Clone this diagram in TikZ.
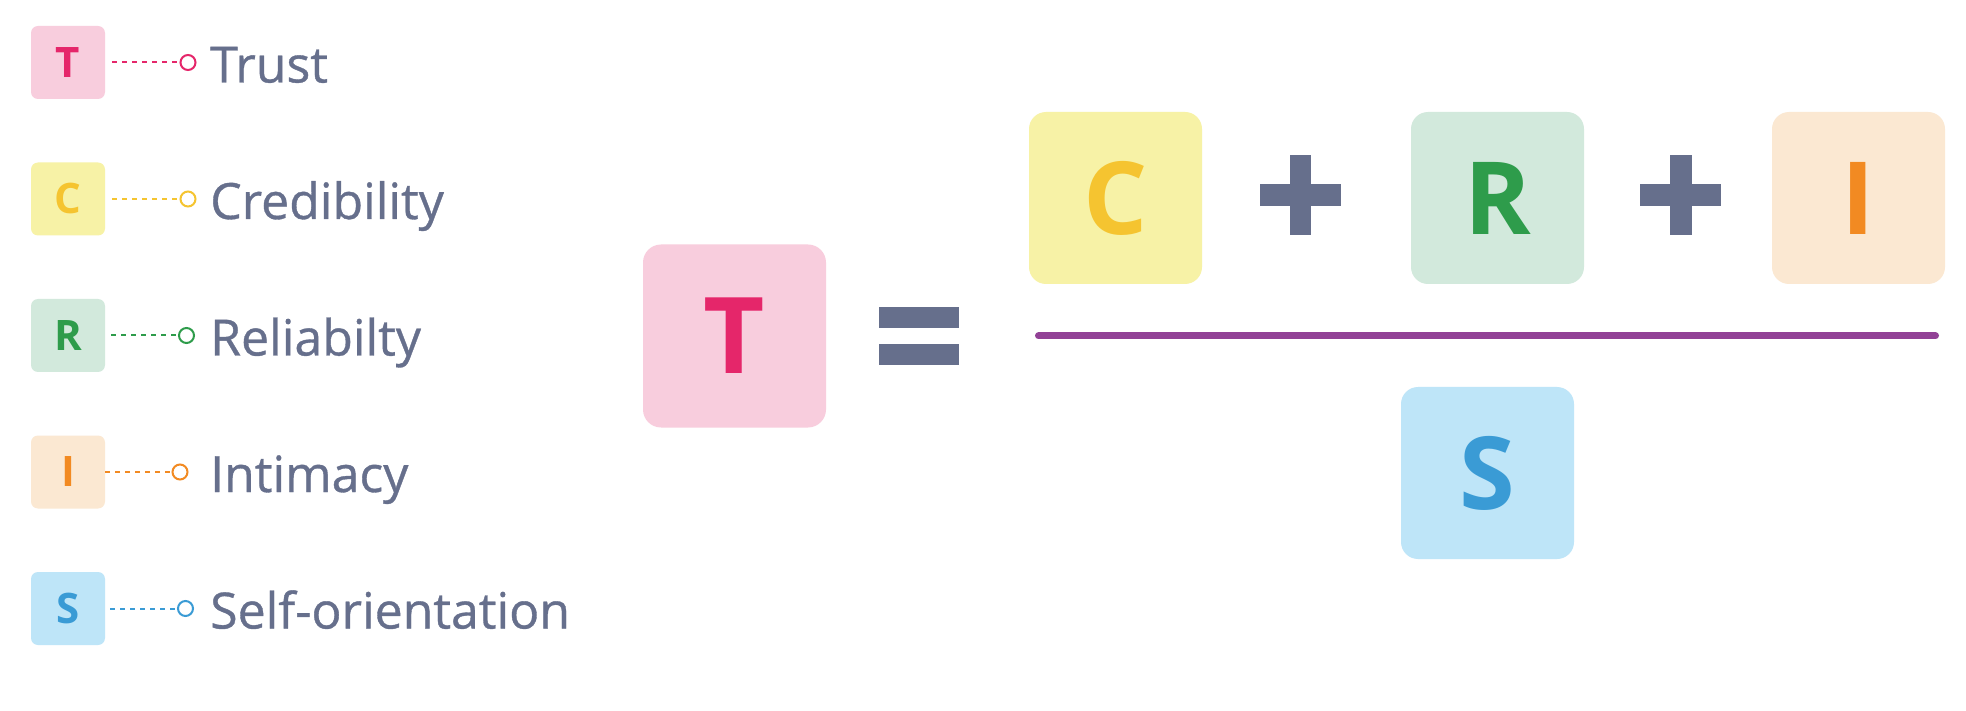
\documentclass[tikz,border=0pt]{standalone}
\usepackage{fontspec}
\setmainfont{Open Sans}
\newfontfamily\labelfont{Open Sans}[FakeBold=0.7]
\definecolor{txtgray}{HTML}{666F8C}
\definecolor{tbg}{HTML}{F8CDDD}\definecolor{tfg}{HTML}{E5266A}
\definecolor{cbg}{HTML}{F7F2A6}\definecolor{cfg}{HTML}{F5C430}
\definecolor{rbg}{HTML}{D2E9DC}\definecolor{rfg}{HTML}{2E9C4B}
\definecolor{ibg}{HTML}{FBE8D2}\definecolor{ifg}{HTML}{F28A22}
\definecolor{sbg}{HTML}{BEE5F8}\definecolor{sfg}{HTML}{3A9BD5}
\definecolor{fracline}{HTML}{924196}
\begin{document}
\begin{tikzpicture}[x=1pt,y=-1pt,
  legbox/.style={rounded corners=7pt, minimum width=74pt, minimum height=73pt, inner sep=0pt, font=\fontsize{42}{48}\selectfont\bfseries},
  bigbox/.style={rounded corners=17pt, minimum width=173pt, minimum height=172pt, inner sep=0pt, font=\fontsize{101}{110}\selectfont\bfseries},
  endcirc/.style={circle, draw, line width=2pt, minimum size=15pt, inner sep=0pt, fill=white},
  leglink/.style={dash pattern=on 5pt off 5pt, line width=2pt},
  leglabel/.style={anchor=base west, inner sep=0pt, text=txtgray, font=\labelfont\fontsize{50}{58}\selectfont},
  opbar/.style={fill=txtgray}
]
\useasboundingbox (0,0) rectangle (1966,711);
\fill[white] (0,0) rectangle (1966,711);

% legend
\node[legbox, fill=tbg, text=tfg] (lT) at (68,62.5) {T};
\node[legbox, fill=cbg, text=cfg] (lC) at (68,199) {C};
\node[legbox, fill=rbg, text=rfg] (lR) at (68,335.5) {R};
\node[legbox, fill=ibg, text=ifg] (lI) at (68,472) {I};
\node[legbox, fill=sbg, text=sfg] (lS) at (68,608.5) {S};

\node[endcirc, draw=tfg] (oT) at (188,62.5) {};
\node[endcirc, draw=cfg] (oC) at (188,199) {};
\node[endcirc, draw=rfg] (oR) at (186.5,335.5) {};
\node[endcirc, draw=ifg] (oI) at (180,472) {};
\node[endcirc, draw=sfg] (oS) at (185.5,608.5) {};

\draw[leglink, draw=tfg, shorten <=7pt] (lT.east) -- (oT.west);
\draw[leglink, draw=cfg, shorten <=7pt] (lC.east) -- (oC.west);
\draw[leglink, draw=rfg, shorten <=6pt] (lR.east) -- (oR.west);
\draw[leglink, draw=ifg] (lI.east) -- (oI.west);
\draw[leglink, draw=sfg, shorten <=5pt] (lS.east) -- (oS.west);

\node[leglabel] (tT) at (210,82.5) {Trust};
\node[leglabel] (tC) at (210,219) {Credibility};
\node[leglabel] (tR) at (210,355.5) {Reliabilty};
\node[leglabel] (tI) at (210,492) {Intimacy};
\node[leglabel] (tS) at (210,628.5) {Self-orientation};

% formula
\node[bigbox, rounded corners=18pt, minimum width=183pt, minimum height=183pt, fill=tbg, text=tfg, font=\fontsize{106}{115}\selectfont\bfseries] (bT) at (734.5,336) {T};

\fill[opbar] (878.5,307.5) rectangle (959,328.5);
\fill[opbar] (878.5,344) rectangle (959,365);

\node[bigbox, fill=cbg, text=cfg] (bC) at (1115.5,198) {C};
\node[bigbox, fill=rbg, text=rfg] (bR) at (1497.5,198) {R};
\node[bigbox, fill=ibg, text=ifg] (bI) at (1858.5,198) {I};
\node[bigbox, fill=sbg, text=sfg] (bS) at (1487.5,473) {S};

\fill[opbar] (1259.5,184) rectangle (1340.5,206);
\fill[opbar] (1289.5,155) rectangle (1311,235);
\fill[opbar] (1640,184) rectangle (1721,206);
\fill[opbar] (1670,155) rectangle (1691.5,235);

\coordinate (fl) at (1038.5,336);
\coordinate (fr) at (1935.5,336);
\draw[fracline, line width=7pt, line cap=round] (fl) -- (fr);
\end{tikzpicture}
\end{document}
